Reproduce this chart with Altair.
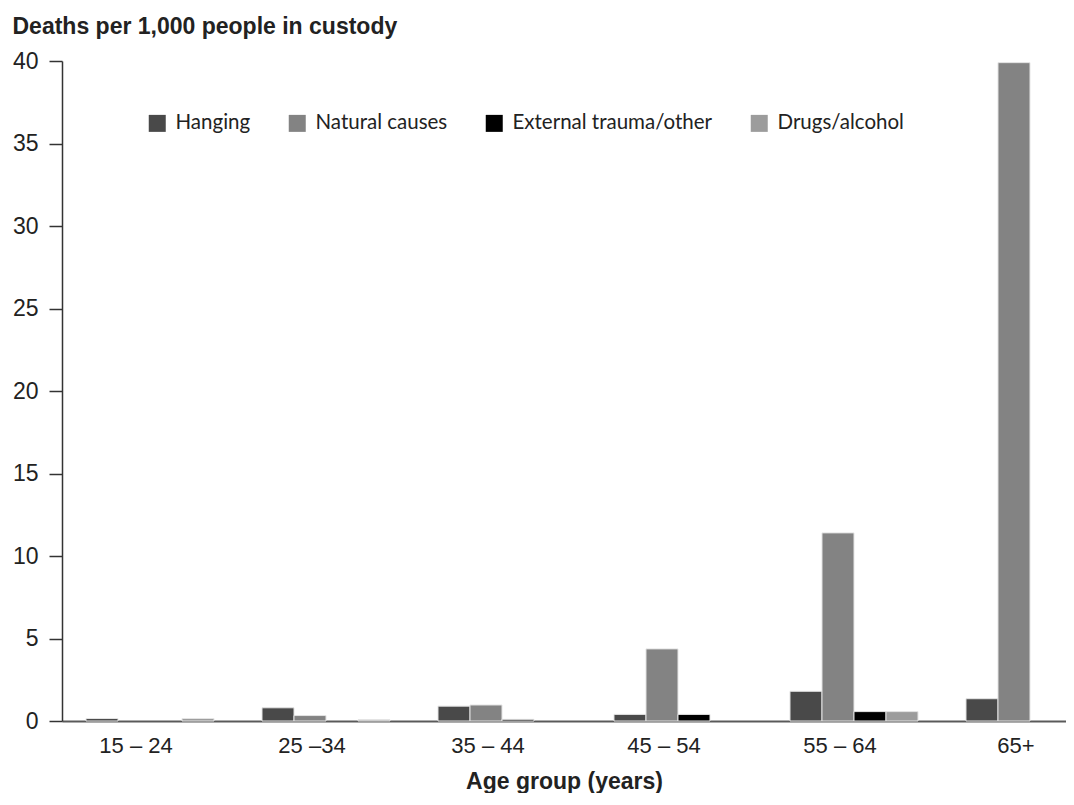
import altair as alt
import pandas as pd

age_groups = ["15 – 24", "25 –34", "35 – 44", "45 – 54", "55 – 64", "65+"]
causes = ["Hanging", "Natural causes", "External trauma/other", "Drugs/alcohol"]
hanging = [0.15, 0.8, 0.9, 0.4, 1.8, 1.35]
natural = [0.0, 0.33, 0.97, 4.37, 11.4, 39.9]
external = [0.0, 0.0, 0.1, 0.4, 0.57, 0.0]
drugs = [0.15, 0.07, 0.0, 0.0, 0.57, 0.0]
colors = ["#494949", "#838383", "#000000", "#9c9c9c"]
y_ticks = [0, 5, 10, 15, 20, 25, 30, 35, 40]

rows = []
for cause, vals in zip(causes, [hanging, natural, external, drugs]):
    for g, v in zip(age_groups, vals):
        rows.append({"age": g, "cause": cause, "value": v})
df = pd.DataFrame(rows)

FONT = "Liberation Sans"

chart = alt.Chart(df).transform_filter(
    "datum.value > 0"
).mark_bar(stroke="#e4e4e4", strokeWidth=1).encode(
    x=alt.X(
        "age:N",
        sort=age_groups,
        scale=alt.Scale(domain=age_groups, range=[0, 1056], paddingInner=0.2727, paddingOuter=0.1364),
        axis=alt.Axis(
            title="Age group (years)",
            labelAngle=0,
            ticks=False,
            domainColor="#5a5a5a",
            domainWidth=2,
            labelFont=FONT,
            labelFontSize=22,
            labelColor="#222222",
            labelPadding=14,
            labelOffset=-14,
            titleFont=FONT,
            titleFontSize=23,
            titleFontWeight="bold",
            titleColor="#222222",
            titleX=502,
            titleY=67,
            titleAlign="center",
            titleBaseline="alphabetic",
        ),
    ),
    xOffset=alt.XOffset("cause:N", sort=causes, scale=alt.Scale(domain=causes, paddingInner=0, paddingOuter=0)),
    y=alt.Y(
        "value:Q",
        scale=alt.Scale(domain=[0, 40], nice=False),
        axis=alt.Axis(
            values=y_ticks,
            grid=False,
            tickSize=13,
            tickColor="#333333",
            domainColor="#333333",
            domainWidth=1.5,
            tickWidth=1.5,
            labelFont=FONT,
            labelFontSize=23,
            labelColor="#222222",
            labelPadding=11,
            title="Deaths per 1,000 people in custody",
            titleAngle=0,
            titleAlign="left",
            titleBaseline="alphabetic",
            titleX=-50,
            titleY=-28,
            titleFont=FONT,
            titleFontSize=23,
            titleFontWeight="bold",
            titleColor="#222222",
        ),
    ),
    color=alt.Color(
        "cause:N",
        sort=causes,
        scale=alt.Scale(domain=causes, range=colors),
        legend=alt.Legend(
            title=None,
            orient="none",
            legendX=85,
            legendY=52,
            direction="horizontal",
            columnPadding=36,
            symbolType="square",
            symbolSize=289,
            symbolStrokeWidth=0,
            symbolOpacity=1,
            labelFont="Lato",
            labelFontSize=20.5,
            labelColor="#222222",
            labelOffset=8,
            labelLimit=0,
        ),
    ),
).properties(
    width=1004,
    height=660,
    autosize=alt.AutoSizeParams(type="none"),
    padding={"left": 54, "top": 53, "right": 0, "bottom": 72},
).configure_view(stroke=None)

chart.save("out.html", embed_options={"renderer": "svg", "actions": False})
